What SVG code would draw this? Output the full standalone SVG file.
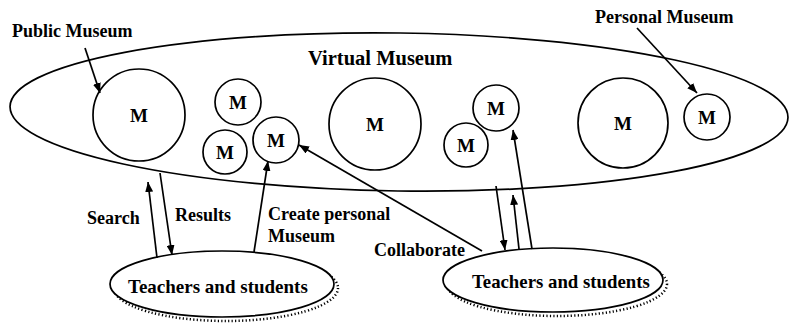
<svg xmlns="http://www.w3.org/2000/svg" width="789" height="327" viewBox="0 0 789 327">
<style>
.ln{fill:none;stroke:#000;stroke-width:1.7}
.nd{fill:#fff;stroke:#000;stroke-width:1.7}
.sh{fill:none;stroke:#000;stroke-width:2.5;stroke-dasharray:1.2 2.3}
text{font-family:'Liberation Serif','DejaVu Serif',serif;font-weight:bold;fill:#000}
.t{font-size:18px}
.m{font-size:19px;text-anchor:middle}
</style>
<defs>
<marker id="ah" viewBox="0 0 10 8" refX="10" refY="4" markerWidth="10" markerHeight="8" markerUnits="userSpaceOnUse" orient="auto">
<path d="M0,0 L10,4 L0,8 Z" fill="#000"/>
</marker>
</defs>
<g id="virtual-museum">
<ellipse class="nd" cx="399" cy="112" rx="389" ry="79" transform="rotate(0.8 399 112)"/>
<text class="t" x="308" y="65" style="font-size:20.5px">Virtual Museum</text>
</g>
<g id="m1"><circle class="nd" cx="139" cy="115" r="46"/><text class="m" x="139" y="122">M</text></g>
<g id="m2"><circle class="nd" cx="238" cy="102" r="23"/><text class="m" x="238" y="109">M</text></g>
<g id="m3"><circle class="nd" cx="225" cy="152" r="22"/><text class="m" x="225" y="159">M</text></g>
<g id="m4"><circle class="nd" cx="276" cy="140" r="23"/><text class="m" x="276" y="147">M</text></g>
<g id="m5"><circle class="nd" cx="375" cy="124" r="46"/><text class="m" x="375" y="131">M</text></g>
<g id="m6"><circle class="nd" cx="496" cy="108" r="23"/><text class="m" x="496" y="115">M</text></g>
<g id="m7"><circle class="nd" cx="466" cy="145" r="22"/><text class="m" x="466" y="152">M</text></g>
<g id="m8"><circle class="nd" cx="623" cy="123" r="45"/><text class="m" x="623" y="130">M</text></g>
<g id="m9"><circle class="nd" cx="707" cy="117" r="23"/><text class="m" x="707" y="124">M</text></g>
<g id="users-left">
<ellipse class="sh" cx="226" cy="288" rx="112" ry="33"/>
<ellipse class="nd" cx="222" cy="284" rx="112" ry="33"/>
<text class="t" x="128" y="293" style="font-size:19px">Teachers and students</text>
</g>
<g id="users-right">
<ellipse class="sh" cx="557" cy="284" rx="110" ry="32"/>
<ellipse class="nd" cx="553" cy="280" rx="110" ry="32"/>
<text class="t" x="472" y="288" style="font-size:18.8px">Teachers and students</text>
</g>
<g id="labels">
<text class="t" x="12" y="37">Public Museum</text>
<text class="t" x="595" y="23">Personal Museum</text>
<text class="t" x="87" y="224">Search</text>
<text class="t" x="175" y="221">Results</text>
<text class="t" x="268" y="220">Create personal</text>
<text class="t" x="268" y="242">Museum</text>
<text class="t" x="374" y="256">Collaborate</text>
</g>
<g id="connectors">
<line class="ln" x1="85" y1="48" x2="100" y2="93" marker-end="url(#ah)"/>
<line class="ln" x1="637" y1="28" x2="697" y2="93" marker-end="url(#ah)"/>
<line class="ln" x1="157" y1="258" x2="148" y2="182" marker-end="url(#ah)"/>
<line class="ln" x1="160" y1="173" x2="172" y2="255" marker-end="url(#ah)"/>
<line class="ln" x1="254" y1="252" x2="268" y2="161" marker-end="url(#ah)"/>
<line class="ln" x1="482" y1="251" x2="299" y2="145" marker-end="url(#ah)"/>
<line class="ln" x1="496" y1="186" x2="505" y2="250" marker-end="url(#ah)"/>
<line class="ln" x1="519" y1="249" x2="513" y2="195" marker-end="url(#ah)"/>
<line class="ln" x1="532" y1="249" x2="513" y2="130" marker-end="url(#ah)"/>
</g>
</svg>
